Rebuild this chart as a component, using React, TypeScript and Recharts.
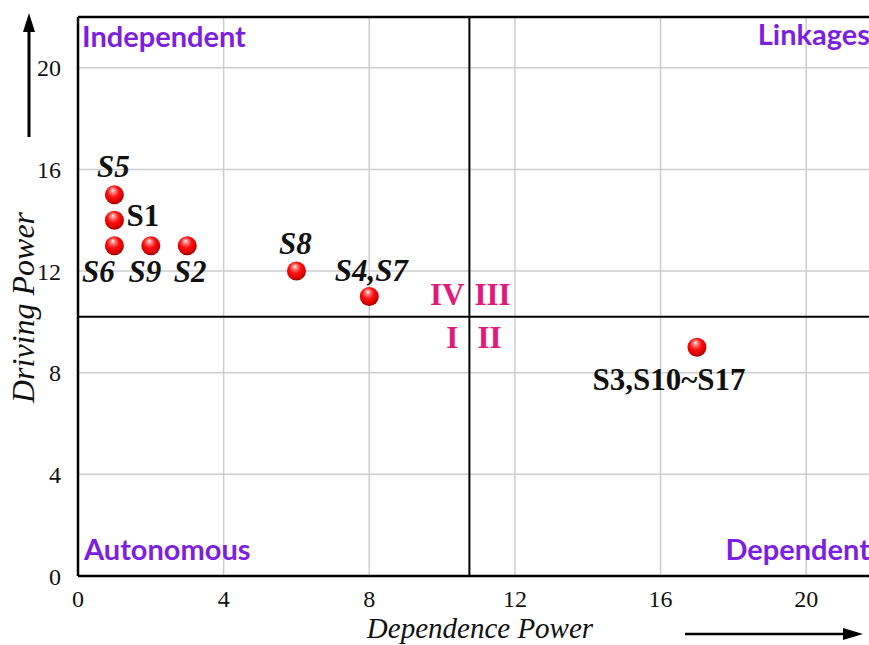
import {
  ScatterChart,
  Scatter,
  XAxis,
  YAxis,
  CartesianGrid,
  ReferenceLine,
  ReferenceDot,
} from "recharts";

// values
const dependence = [1, 1, 1, 2, 3, 6, 8, 17];
const driving = [15, 14, 13, 13, 13, 12, 11, 9];
const factorNames = ["S5", "S1", "S6", "S9", "S2", "S8", "S4,S7", "S3,S10~S17"];
const axisTicks = [0, 4, 8, 12, 16, 20];
const quadrantNames = ["Independent", "Linkages", "Autonomous", "Dependent"];
const clusterNumerals = ["IV", "III", "I", "II"];
const dividerX = 10.75;
const dividerY = 10.2;
const axisMax = 22;

const PURPLE = "#7d1fdf";
const PINK = "#e2197d";
const SERIF = "'Liberation Serif', 'Times New Roman', serif";

// where each factor's label sits relative to its ball
const labelPlacement: Record<string, { dx: number; dy: number; anchor: string; italic: boolean }> = {
  S5: { dx: -1, dy: -18, anchor: "middle", italic: true },
  S1: { dx: 12, dy: 6, anchor: "start", italic: false },
  S6: { dx: -16, dy: 36, anchor: "middle", italic: true },
  S9: { dx: -6, dy: 36, anchor: "middle", italic: true },
  S2: { dx: 3, dy: 36, anchor: "middle", italic: true },
  S8: { dx: -1, dy: -17, anchor: "middle", italic: true },
  "S4,S7": { dx: 2, dy: -16, anchor: "middle", italic: true },
  "S3,S10~S17": { dx: -28, dy: 43, anchor: "middle", italic: false },
};

const points = dependence.map((x, i) => ({ x, y: driving[i], name: factorNames[i] }));

// eslint-disable-next-line @typescript-eslint/no-explicit-any
function Ball(props: any) {
  const { cx, cy, payload, index } = props;
  const place = labelPlacement[payload.name];
  const id = `ball-${index}`;
  return (
    <g>
      <defs>
        <radialGradient id={id} cx="45%" cy="40%" r="60%" fx="42%" fy="25%">
          <stop offset="0%" stopColor="#ffffff" />
          <stop offset="18%" stopColor="#ff8a8a" />
          <stop offset="50%" stopColor="#ff1010" />
          <stop offset="85%" stopColor="#d40000" />
          <stop offset="100%" stopColor="#9a0000" />
        </radialGradient>
      </defs>
      <circle cx={cx} cy={cy} r={9.5} fill={`url(#${id})`} />
      <text
        x={cx + place.dx}
        y={cy + place.dy}
        textAnchor={place.anchor}
        fontFamily={SERIF}
        fontWeight="bold"
        fontStyle={place.italic ? "italic" : "normal"}
        fontSize={31}
        fill="#111"
      >
        {payload.name}
      </text>
    </g>
  );
}

// eslint-disable-next-line @typescript-eslint/no-explicit-any
function Numerals({ cx, cy }: any) {
  const common = { fontFamily: SERIF, fontWeight: "bold", fontSize: 31, fill: PINK };
  return (
    <g>
      <text x={cx - 5} y={cy - 12} textAnchor="end" {...common}>{clusterNumerals[0]}</text>
      <text x={cx + 5} y={cy - 12} textAnchor="start" {...common}>{clusterNumerals[1]}</text>
      <text x={cx - 11} y={cy + 31} textAnchor="end" {...common}>{clusterNumerals[2]}</text>
      <text x={cx + 8} y={cy + 31} textAnchor="start" {...common}>{clusterNumerals[3]}</text>
    </g>
  );
}

// eslint-disable-next-line @typescript-eslint/no-explicit-any
function QuadrantName({ cx, cy, text, anchor, dx, dy }: any) {
  return (
    <text
      x={cx + dx}
      y={cy + dy}
      textAnchor={anchor}
      fontFamily="Lato, 'Open Sans', sans-serif"
      fontWeight="bold"
      fontSize={29}
      fill={PURPLE}
    >
      {text}
    </text>
  );
}

// eslint-disable-next-line @typescript-eslint/no-explicit-any
function YTitle({ viewBox }: any) {
  const x = viewBox.x + 23;
  const y = viewBox.y + viewBox.height / 2 + 11;
  return (
    <g>
      <text
        x={x}
        y={y}
        transform={`rotate(-90 ${x} ${y})`}
        textAnchor="middle"
        dominantBaseline="central"
        fontFamily={SERIF}
        fontStyle="italic"
        fontSize={32}
        fill="#111"
      >
        Driving Power
      </text>
      <line x1={29} y1={137} x2={29} y2={30} stroke="#000" strokeWidth={3} />
      <polygon points="23,32 35,32 29,13" fill="#000" />
    </g>
  );
}

// eslint-disable-next-line @typescript-eslint/no-explicit-any
function XTitle({ viewBox }: any) {
  const y = viewBox.y + 62;
  return (
    <g>
      <text
        x={480}
        y={y}
        textAnchor="middle"
        fontFamily={SERIF}
        fontStyle="italic"
        fontSize={29}
        fill="#111"
      >
        Dependence Power
      </text>
      <line x1={685} y1={634} x2={846} y2={634} stroke="#000" strokeWidth={2.5} />
      <polygon points="843,628 843,640 863,634" fill="#000" />
    </g>
  );
}

export default function App() {
  const tickStyle = { fill: "#111", fontSize: 24, fontFamily: SERIF };
  return (
    <div
      style={{
        position: "absolute",
        left: 0,
        top: 0,
        width: 869,
        height: 645,
        overflow: "hidden",
        background: "#fff",
      }}
    >
      <ScatterChart width={880} height={645} margin={{ top: 17, right: 1, bottom: 0, left: 0 }}>
        <CartesianGrid stroke="#cdcdcd" strokeWidth={1.5} />
        <XAxis
          type="number"
          dataKey="x"
          domain={[0, axisMax]}
          ticks={axisTicks}
          height={69}
          tick={tickStyle}
          tickLine={false}
          tickMargin={8}
          axisLine={{ stroke: "#000", strokeWidth: 2.5 }}
          label={{ content: <XTitle /> }}
        />
        <YAxis
          type="number"
          dataKey="y"
          domain={[0, axisMax]}
          ticks={axisTicks}
          width={78}
          tick={tickStyle}
          tickLine={false}
          tickMargin={11}
          axisLine={{ stroke: "#000", strokeWidth: 2.5 }}
          label={{ content: <YTitle /> }}
        />
        <ReferenceLine y={axisMax} stroke="#000" strokeWidth={2.5} />
        <ReferenceLine x={axisMax} stroke="#000" strokeWidth={2.5} />
        <ReferenceLine x={dividerX} stroke="#000" strokeWidth={2} />
        <ReferenceLine y={dividerY} stroke="#000" strokeWidth={2} />
        <ReferenceDot
          x={0}
          y={axisMax}
          r={0}
          shape={(p: any) => <QuadrantName {...p} text={quadrantNames[0]} anchor="start" dx={4} dy={30} />}
        />
        <ReferenceDot
          x={axisMax}
          y={axisMax}
          r={0}
          shape={(p: any) => <QuadrantName {...p} text={quadrantNames[1]} anchor="end" dx={-9} dy={28} />}
        />
        <ReferenceDot
          x={0}
          y={0}
          r={0}
          shape={(p: any) => <QuadrantName {...p} text={quadrantNames[2]} anchor="start" dx={6} dy={-16} />}
        />
        <ReferenceDot
          x={axisMax}
          y={0}
          r={0}
          shape={(p: any) => <QuadrantName {...p} text={quadrantNames[3]} anchor="end" dx={-9} dy={-16} />}
        />
        <ReferenceDot x={dividerX} y={dividerY} r={0} shape={(p: any) => <Numerals {...p} />} />
        <Scatter data={points} shape={<Ball />} isAnimationActive={false} />
      </ScatterChart>
    </div>
  );
}
